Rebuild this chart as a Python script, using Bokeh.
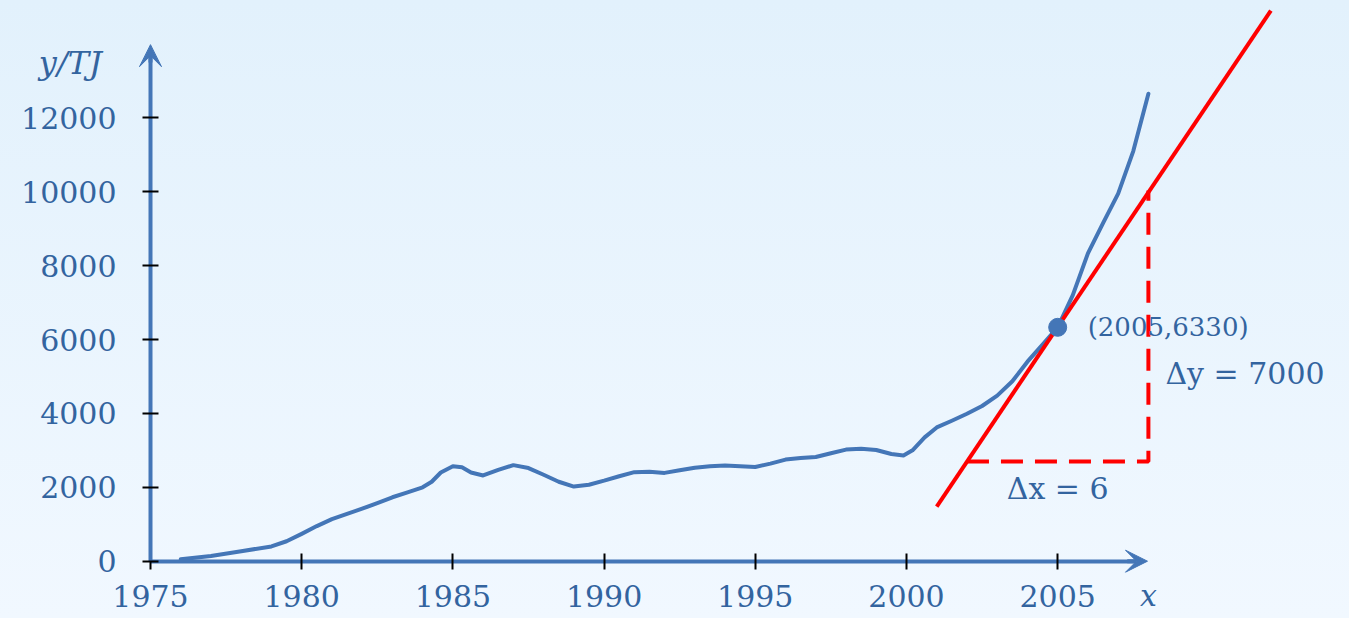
from bokeh.plotting import figure
from bokeh.models import Range1d, FixedTicker, Arrow, VeeHead, Label
from bokeh.embed import file_html
from bokeh.resources import INLINE

# ---- data ----
years = [1976.0, 1977.0, 1978.0, 1979.0, 1979.5, 1980.0, 1980.5, 1981.0, 1981.5, 1982.0,
         1982.5, 1983.0, 1983.5, 1984.0, 1984.3, 1984.6, 1985.0, 1985.3, 1985.6, 1986.0,
         1986.5, 1987.0, 1987.5, 1988.0, 1988.5, 1989.0, 1989.5, 1990.0, 1990.5, 1991.0,
         1991.5, 1992.0, 1992.5, 1993.0, 1993.5, 1994.0, 1994.5, 1995.0, 1995.5, 1996.0,
         1996.5, 1997.0, 1997.5, 1998.0, 1998.5, 1999.0, 1999.5, 1999.9, 2000.2, 2000.6,
         2001.0, 2001.5, 2002.0, 2002.5, 2003.0, 2003.5, 2004.0, 2004.5, 2005.0, 2005.5,
         2006.0, 2006.5, 2007.0, 2007.5, 2008.0]
energy = [50, 140, 270, 400, 540, 740, 950, 1140, 1280, 1420,
          1570, 1730, 1860, 2000, 2150, 2400, 2570, 2540, 2400, 2320,
          2470, 2600, 2520, 2340, 2150, 2020, 2070, 2180, 2300, 2410,
          2420, 2390, 2460, 2530, 2570, 2590, 2570, 2550, 2640, 2750,
          2790, 2820, 2920, 3020, 3040, 3010, 2900, 2860, 3000, 3350,
          3620, 3800, 3990, 4200, 4480, 4870, 5400, 5860, 6330, 7200,
          8330, 9150, 9950, 11100, 12650]

x_ticks = [1975, 1980, 1985, 1990, 1995, 2000, 2005]
y_ticks = [0, 2000, 4000, 6000, 8000, 10000, 12000]

point_x = [2005]
point_y = [6330]
point_label = "(2005,6330)"

tangent_x = [2001.0, 2012.05]
tangent_y = [1480, 14900]

tri_x = [2002, 2008, 2008]
tri_y = [2700, 2700, 10030]

# ---- styling ----
BLUE = "#4476b7"
TEXT = "#33649f"
RED = "#ff0000"
FONT = "DejaVu Serif"

p = figure(width=1349, height=618, output_backend="svg", toolbar_location=None,
           x_range=Range1d(1970.04, 2014.65), y_range=Range1d(-1551, 15175),
           min_border_left=0, min_border_right=0, min_border_top=0,
           min_border_bottom=0)
p.background_fill_alpha = 0
p.border_fill_alpha = 0
p.outline_line_color = None
p.xgrid.visible = False
p.ygrid.visible = False

for ax in (p.xaxis[0], p.yaxis[0]):
    ax.axis_line_color = BLUE
    ax.axis_line_width = 4
    ax.major_tick_line_color = "black"
    ax.major_tick_line_width = 2
    ax.major_tick_in = 8
    ax.major_tick_out = 8
    ax.minor_tick_line_color = None
    ax.major_label_text_font = FONT
    ax.major_label_text_font_size = "30px"
    ax.major_label_text_color = TEXT

p.yaxis.fixed_location = 1975
p.yaxis.ticker = FixedTicker(ticks=y_ticks)
p.yaxis.bounds = (0, 13700)
p.yaxis.major_label_standoff = 26
p.xaxis.fixed_location = 0
p.xaxis.ticker = FixedTicker(ticks=x_ticks)
p.xaxis.bounds = (1975, 2007.6)
p.xaxis.major_label_standoff = 16

# axis arrow heads
p.add_layout(Arrow(end=VeeHead(size=22, fill_color=BLUE, line_color=BLUE, line_width=1),
                   x_start=1975, y_start=13500, x_end=1975, y_end=13980,
                   line_color=BLUE, line_width=4))
p.add_layout(Arrow(end=VeeHead(size=22, fill_color=BLUE, line_color=BLUE, line_width=1),
                   x_start=2007.3, y_start=0, x_end=2007.97, y_end=0,
                   line_color=BLUE, line_width=4))

# data
p.line(years, energy, line_width=4, color=BLUE, line_join="round", line_cap="round")
p.line(tangent_x, tangent_y, line_width=4, color=RED)
p.line(tri_x, tri_y, line_width=4, color=RED, line_dash="22 12")
p.scatter(point_x, point_y, size=18, color=BLUE)

# texts
def lab(**kw):
    base = dict(text_font=FONT, text_color=TEXT, text_font_size="30px",
                text_baseline="middle")
    base.update(kw)
    p.add_layout(Label(**base))

lab(x=point_x[0], y=point_y[0], x_offset=30, text=point_label, text_font_size="26px")
lab(x=2008, y=5080, x_offset=17, text="Δy = 7000")
lab(x=2005, y=1970, text="Δx = 6", text_align="center")
lab(x=2008, y=0, y_offset=-34, text="x", text_align="center", text_font_style="italic")
lab(x=1972.35, y=13470, text="y/TJ", text_align="center", text_font_style="italic",
    text_font_size="32px")

html = file_html(p, INLINE)
css = ("<style>html{min-height:100%;background:linear-gradient(to bottom,#e2f1fc 0%,#f1f8ff 100%) "
       "no-repeat fixed;} body{background:transparent;}</style>")
html = html.replace("</head>", css + "</head>", 1)
open("out.html", "w").write(html)
